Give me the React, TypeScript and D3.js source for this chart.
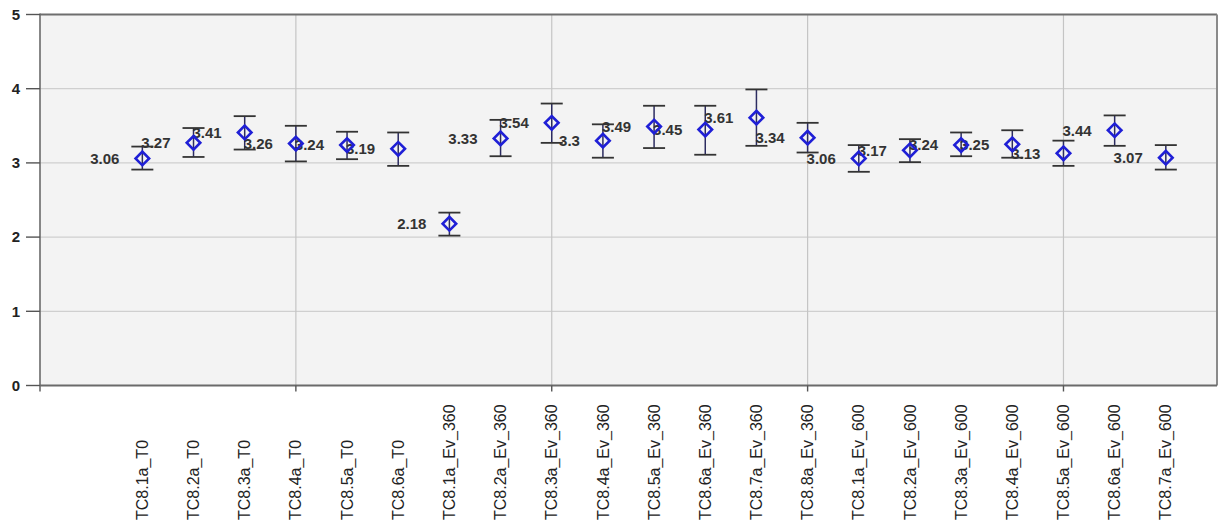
import React from "react";
import * as d3 from "d3";

const categories = [
  "TC8.1a_T0", "TC8.2a_T0", "TC8.3a_T0", "TC8.4a_T0", "TC8.5a_T0", "TC8.6a_T0",
  "TC8.1a_Ev_360", "TC8.2a_Ev_360", "TC8.3a_Ev_360", "TC8.4a_Ev_360", "TC8.5a_Ev_360",
  "TC8.6a_Ev_360", "TC8.7a_Ev_360", "TC8.8a_Ev_360",
  "TC8.1a_Ev_600", "TC8.2a_Ev_600", "TC8.3a_Ev_600", "TC8.4a_Ev_600", "TC8.5a_Ev_600",
  "TC8.6a_Ev_600", "TC8.7a_Ev_600",
];
const means = [3.06, 3.27, 3.41, 3.26, 3.24, 3.19, 2.18, 3.33, 3.54, 3.3, 3.49, 3.45, 3.61, 3.34, 3.06, 3.17, 3.24, 3.25, 3.13, 3.44, 3.07];
const upper = [3.22, 3.47, 3.63, 3.5, 3.42, 3.41, 2.33, 3.58, 3.8, 3.52, 3.77, 3.77, 3.99, 3.54, 3.24, 3.32, 3.41, 3.44, 3.3, 3.64, 3.24];
const lower = [2.91, 3.08, 3.18, 3.02, 3.05, 2.96, 2.02, 3.09, 3.27, 3.07, 3.2, 3.11, 3.23, 3.14, 2.88, 3.01, 3.09, 3.07, 2.96, 3.23, 2.91];
const yTicks = [0, 1, 2, 3, 4, 5];
const xGridTicks = [5, 10, 15, 20];

const W = 1220;
const H = 524;
const left = 40;
const right = 1217;
const top = 14.5;
const bottom = 385.5;

export default function App() {
  const x = d3.scaleLinear().domain([0, 23]).range([left, right]);
  const y = d3.scaleLinear().domain([0, 5]).range([bottom, top]);
  const pos = (i: number) => x(i + 2);
  const diamond = d3.symbol().type(d3.symbolSquare).size(92)() as string;
  const capHalf = 11;

  return (
    <svg
      width={W}
      height={H}
      style={{ position: "absolute", left: 0, top: 0, background: "#fff" }}
      fontFamily="Liberation Sans, Arial, sans-serif"
    >
      <rect x={left} y={top} width={right - left} height={bottom - top} fill="#f3f3f3" />
      {yTicks.filter((t) => t > 0 && t < 5).map((t) => (
        <line key={"gy" + t} x1={left} x2={right} y1={y(t)} y2={y(t)} stroke="#cfcfcf" strokeWidth={1.2} />
      ))}
      {xGridTicks.map((t) => (
        <line key={"gx" + t} x1={x(t)} x2={x(t)} y1={top} y2={bottom} stroke="#c4c4c4" strokeWidth={1.2} />
      ))}
      <line x1={left} x2={right} y1={top} y2={top} stroke="#6e6e6e" strokeWidth={2} />
      <line x1={right} x2={right} y1={top} y2={bottom} stroke="#8a8a8a" strokeWidth={2} />
      <line x1={left} x2={right} y1={bottom} y2={bottom} stroke="#6a6a6a" strokeWidth={2} />
      <line x1={left} x2={left} y1={top - 1} y2={bottom + 6} stroke="#6a6a6a" strokeWidth={1.6} />
      {yTicks.map((t) => (
        <g key={"yt" + t}>
          <line x1={left - 14} x2={left} y1={y(t)} y2={y(t)} stroke="#555" strokeWidth={1.4} />
          <text x={left - 20} y={y(t)} dy="0.35em" textAnchor="end" fontSize={15} fontWeight={700} fill="#222">
            {t}
          </text>
        </g>
      ))}
      {xGridTicks.map((t) => (
        <line key={"xt" + t} x1={x(t)} x2={x(t)} y1={bottom} y2={bottom + 6} stroke="#555" strokeWidth={1.4} />
      ))}
      {categories.map((c, i) => (
        <g key={"eb" + c}>
          <line x1={pos(i)} x2={pos(i)} y1={y(upper[i])} y2={y(lower[i])} stroke="#2c2c60" strokeWidth={1.5} />
          <line x1={pos(i) - capHalf} x2={pos(i) + capHalf} y1={y(upper[i])} y2={y(upper[i])} stroke="#333" strokeWidth={1.8} />
          <line x1={pos(i) - capHalf} x2={pos(i) + capHalf} y1={y(lower[i])} y2={y(lower[i])} stroke="#333" strokeWidth={1.8} />
        </g>
      ))}
      {categories.map((c, i) => (
        <text
          key={"vl" + c}
          x={pos(i) - 23}
          y={y(means[i])}
          dy="0.35em"
          textAnchor="end"
          fontSize={15}
          fontWeight={600}
          fill="#333"
        >
          {means[i]}
        </text>
      ))}
      {categories.map((c, i) => (
        <path
          key={"mk" + c}
          d={diamond}
          transform={`translate(${pos(i)},${y(means[i])}) rotate(45)`}
          fill="none"
          stroke="#1f1fd6"
          strokeWidth={2.6}
        />
      ))}
      {categories.map((c, i) => (
        <text
          key={"xl" + c}
          transform={`translate(${pos(i)},${H - 4}) rotate(-90)`}
          dy="0.35em"
          textAnchor="start"
          fontSize={16}
          fill="#222"
        >
          {c}
        </text>
      ))}
    </svg>
  );
}
